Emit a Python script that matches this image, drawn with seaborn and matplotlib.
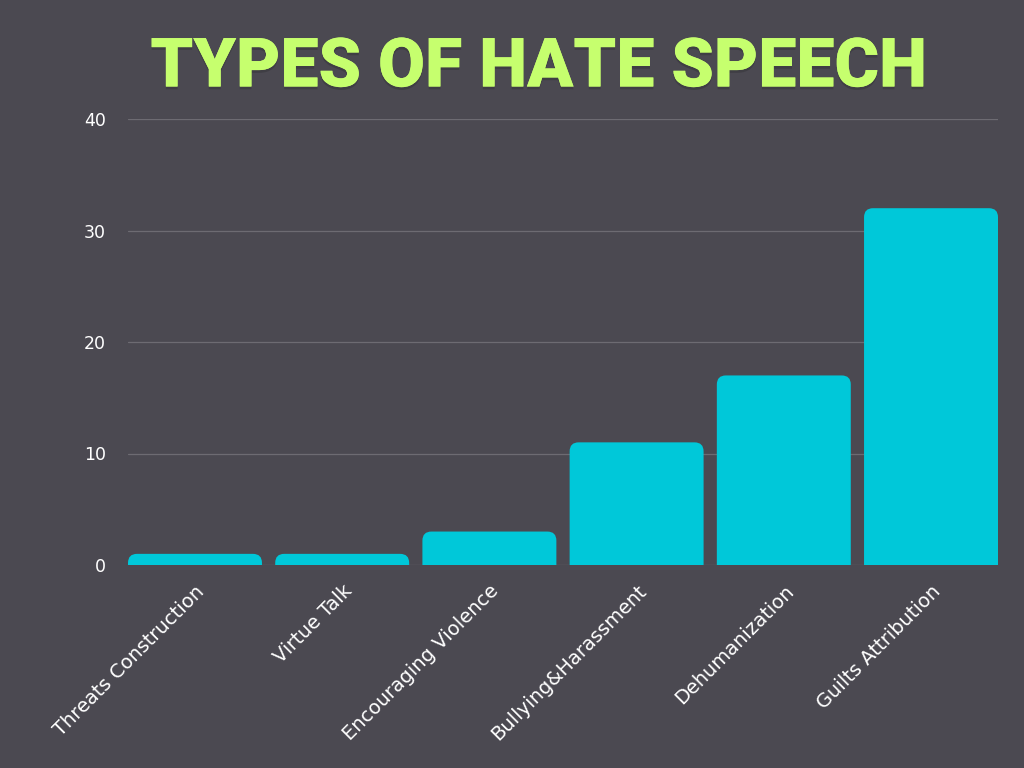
import matplotlib
matplotlib.use("Agg")
import matplotlib.pyplot as plt
import matplotlib.patheffects as pe
from matplotlib.patches import FancyBboxPatch
import seaborn as sns
import pandas as pd

categories = ["Threats Construction", "Virtue Talk", "Encouraging Violence",
              "Bullying&Harassment", "Dehumanization", "Guilts Attribution"]
values = [1, 1, 3, 11, 17, 32]
yticks = [0, 10, 20, 30, 40]

BG = "#4b4951"
BAR = "#00c8d9"
TITLE = "#c6ff6e"

sns.set_theme(style="dark")
plt.rcParams['font.family'] = ['DejaVu Sans']

fig = plt.figure(figsize=(10.24, 7.68), dpi=100, facecolor=BG)
ax = fig.add_axes([128/1024, 1 - 565/768, (998-128)/1024, (565-119)/768])
ax.set_facecolor(BG)

df = pd.DataFrame({"cat": categories, "val": values})
sns.barplot(data=df, x="cat", y="val", color=BAR, width=0.91, saturation=1,
            ax=ax, zorder=3)

ax.set_ylim(0, 40)
ax.set_xlim(-0.455, len(categories) - 1 + 0.455)

# rounded tops
px_x = (998 - 128) / (len(categories) - 1 + 0.91)
px_y = (565 - 119) / 40
r_px = 9
rx = r_px / px_x
ry = r_px / px_y
for p in list(ax.patches):
    x0, w, h = p.get_x(), p.get_width(), p.get_height()
    fb = FancyBboxPatch((x0, -2), w, h + 2,
                        boxstyle=f"round,pad=0,rounding_size={rx}",
                        mutation_aspect=ry / rx,
                        facecolor=BAR, edgecolor="none", zorder=3)
    p.remove()
    ax.add_patch(fb)

ax.set_yticks(yticks)
ax.yaxis.grid(True, color="#6d6b72", linewidth=0.9)
ax.xaxis.grid(False)
for s in ax.spines.values():
    s.set_visible(False)
ax.tick_params(axis="both", length=0, colors="white")
ax.tick_params(axis="y", labelsize=12.5, pad=16)
ax.set_xlabel("")
ax.set_ylabel("")
ax.set_xticks(range(len(categories)))
ax.set_xticklabels(categories, rotation=45, ha="right", rotation_mode="anchor",
                   fontsize=14, color="white")
ax.tick_params(axis="x", pad=12)

fig.text(538/1024, 1 - 68/768, "TYPES OF HATE SPEECH", ha="center", va="center",
         fontsize=49, fontweight="black", color=TITLE, family=["Roboto", "Lato", "DejaVu Sans"],
         path_effects=[pe.withSimplePatchShadow(offset=(0, -2), shadow_rgbFace="black", alpha=0.15),
                       pe.Normal()])

fig.savefig("out.png", dpi=100, facecolor=BG)
